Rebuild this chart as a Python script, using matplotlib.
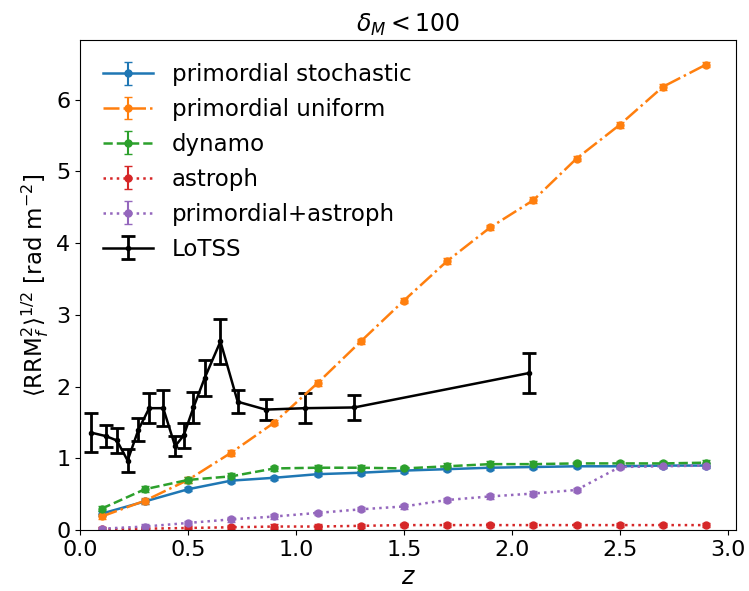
import matplotlib
matplotlib.use("Agg")
import matplotlib.pyplot as plt

# model redshift bins
z_model = [0.1, 0.3, 0.5, 0.7, 0.9, 1.1, 1.3, 1.5, 1.7, 1.9, 2.1, 2.3, 2.5, 2.7, 2.9]

prim_stoch = [0.23, 0.40, 0.57, 0.69, 0.73, 0.78, 0.80, 0.83, 0.85, 0.87, 0.88, 0.89, 0.89, 0.90, 0.90]
prim_unif = [0.19, 0.41, 0.70, 1.08, 1.50, 2.05, 2.63, 3.20, 3.75, 4.22, 4.60, 5.18, 5.65, 6.18, 6.49]
dynamo = [0.30, 0.57, 0.70, 0.75, 0.86, 0.87, 0.87, 0.86, 0.89, 0.92, 0.92, 0.93, 0.93, 0.93, 0.94]
astroph = [0.01, 0.02, 0.03, 0.04, 0.05, 0.05, 0.06, 0.07, 0.07, 0.07, 0.07, 0.07, 0.07, 0.07, 0.07]
prim_astroph = [0.02, 0.05, 0.10, 0.15, 0.19, 0.24, 0.29, 0.33, 0.42, 0.47, 0.51, 0.56, 0.88, 0.89, 0.90]

err_stoch = 0.03
err_unif = 0.04
err_dynamo = 0.04
err_astroph = 0.03
err_prim_astroph = 0.03

# LoTSS measurements
z_lotss = [0.05, 0.12, 0.17, 0.22, 0.27, 0.32, 0.385, 0.44, 0.48, 0.525,
           0.577, 0.65, 0.73, 0.86, 1.04, 1.27, 2.08]
rrm_lotss = [1.36, 1.31, 1.25, 0.97, 1.40, 1.70, 1.70, 1.17, 1.32, 1.71,
             2.12, 2.63, 1.79, 1.68, 1.70, 1.71, 2.19]
err_lotss = [0.27, 0.15, 0.18, 0.16, 0.16, 0.21, 0.25, 0.14, 0.18, 0.22,
             0.25, 0.31, 0.16, 0.15, 0.21, 0.17, 0.28]


def main():
    fig = plt.figure(figsize=(7.49, 5.91), dpi=100)
    ax = fig.add_axes([0.107, 0.103, 0.876, 0.829])

    kw = dict(marker='o', markersize=5, capsize=3, linewidth=1.8, elinewidth=1.5)
    ax.errorbar(z_model, prim_stoch, yerr=err_stoch, color='tab:blue',
                linestyle='-', label='primordial stochastic', **kw)
    ax.errorbar(z_model, prim_unif, yerr=err_unif, color='tab:orange',
                linestyle='-.', label='primordial uniform', **kw)
    ax.errorbar(z_model, dynamo, yerr=err_dynamo, color='tab:green',
                linestyle='--', label='dynamo', **kw)
    ax.errorbar(z_model, astroph, yerr=err_astroph, color='tab:red',
                linestyle=':', label='astroph', **kw)
    ax.errorbar(z_model, prim_astroph, yerr=err_prim_astroph, color='tab:purple',
                linestyle=':', label='primordial+astroph', **kw)
    ax.errorbar(z_lotss, rrm_lotss, yerr=err_lotss, color='black', marker='o',
                markersize=3, capsize=5, capthick=2, elinewidth=2, linewidth=1.8,
                label='LoTSS')

    ax.set_xlim(0, 3.04)
    ax.set_ylim(0, 6.83)
    ax.set_xticks([0.0, 0.5, 1.0, 1.5, 2.0, 2.5, 3.0])
    ax.tick_params(labelsize=16)
    ax.set_xlabel('$z$', fontsize=17)
    ax.set_ylabel(r'$\langle {\rm RRM}_f^2 \rangle^{1/2}$ [rad m$^{-2}$]', fontsize=16.5)
    ax.set_title(r'$\delta_M < 100$', fontsize=17)
    ax.legend(loc='upper left', frameon=False, fontsize=16.5, handlelength=2.2,
              labelspacing=0.52, borderaxespad=0.6)

    fig.savefig('out.png', dpi=100)


if __name__ == '__main__':
    main()
